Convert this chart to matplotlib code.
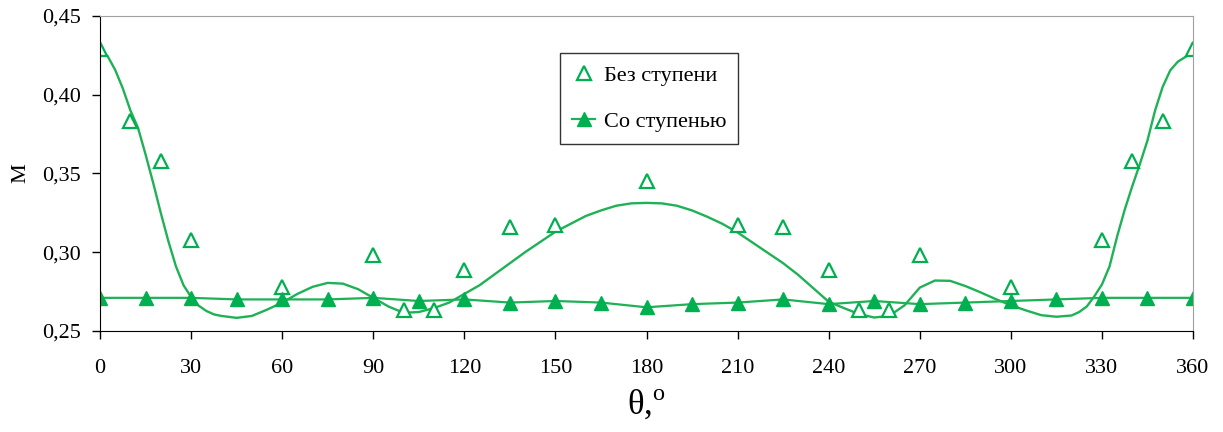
import numpy as np
import matplotlib.pyplot as plt

plt.rcParams['font.family'] = ['Liberation Serif', 'DejaVu Serif']
plt.rcParams['mathtext.fontset'] = 'custom'
plt.rcParams['mathtext.rm'] = 'Liberation Serif'

# Без ступени - точки
theta_bez = [0, 10, 20, 30, 60, 90, 100, 110, 120, 135, 150, 180, 210, 225,
             240, 250, 260, 270, 300, 330, 340, 350, 360]
m_bez = [0.429, 0.383, 0.358, 0.308, 0.278, 0.298, 0.263, 0.263, 0.289, 0.316,
         0.317, 0.345, 0.317, 0.316, 0.289, 0.263, 0.263, 0.298, 0.278, 0.308,
         0.358, 0.383, 0.429]

# Без ступени - линия тренда
theta_trend = [0, 2.5, 5, 7.5, 10, 12.5, 15, 17.5, 20, 22.5, 25, 27.5, 30, 32.5,
               35, 37.5, 40, 45, 50, 55, 60, 65, 70, 75, 80, 85, 90, 95, 100,
               105, 110, 115, 120, 125, 130, 135, 140, 145, 150, 155, 160, 165,
               170, 175, 180, 185, 190, 195, 200, 205, 210, 215, 220, 225, 230,
               235, 240, 245, 250, 255, 260, 265, 270, 275, 280, 285, 290, 295,
               300, 305, 310, 315, 320, 322.5, 325, 327.5, 330, 332.5, 335,
               337.5, 340, 342.5, 345, 347.5, 350, 352.5, 355, 357.5, 360]
m_trend = [0.428, 0.4245, 0.4157, 0.404, 0.390, 0.379, 0.362, 0.344, 0.325,
           0.307, 0.291, 0.279, 0.2715, 0.266, 0.2627, 0.2605, 0.2595, 0.2583,
           0.2595, 0.2635, 0.268, 0.2735, 0.278, 0.2805, 0.280, 0.2765, 0.271,
           0.2655, 0.2615, 0.262, 0.2645, 0.268, 0.2735, 0.279, 0.286, 0.293,
           0.300, 0.3065, 0.313, 0.318, 0.323, 0.3265, 0.3295, 0.331, 0.3313,
           0.331, 0.3295, 0.3265, 0.3225, 0.318, 0.3125, 0.306, 0.2995, 0.293,
           0.2855, 0.277, 0.2685, 0.2645, 0.2607, 0.2585, 0.2596, 0.2663, 0.2775,
           0.282, 0.2818, 0.2785, 0.2745, 0.2702, 0.2663, 0.263, 0.260, 0.259,
           0.2598, 0.262, 0.2655, 0.272, 0.2795, 0.291, 0.310, 0.327, 0.342,
           0.356, 0.371, 0.390, 0.405, 0.4155, 0.421, 0.424, 0.427]

# Со ступенью
theta_so = list(range(0, 361, 15))
m_so = [0.271, 0.271, 0.271, 0.270, 0.270, 0.270, 0.271, 0.269, 0.270, 0.268,
        0.269, 0.268, 0.265, 0.267, 0.268, 0.270, 0.267, 0.269, 0.267, 0.268,
        0.269, 0.270, 0.271, 0.271, 0.271]

green = '#00B050'
line_green = '#1FB155'

fig = plt.figure(figsize=(12.23, 4.32), dpi=100)
ax = fig.add_axes([0.0818, 0.234, 0.8937, 0.729])

ax.plot(theta_trend, m_trend, color=line_green, lw=1.7)
ax.plot(theta_bez, m_bez, ls='none', marker='^', ms=9.5, mfc='white', mec=green,
        mew=1.6, label='Без ступени')
ax.plot(theta_so, m_so, color=line_green, lw=1.6, marker='^', ms=10,
        mfc=green, mec=green, label='Со ступенью')

ax.set_xlim(0, 360)
ax.set_ylim(0.25, 0.45)
ax.set_xticks(range(0, 361, 30))
ax.set_yticks([0.25, 0.30, 0.35, 0.40, 0.45])
ax.set_yticklabels(['0,25', '0,30', '0,35', '0,40', '0,45'])
ax.tick_params(axis='both', labelsize=16, direction='out', length=6, width=1)
ax.tick_params(axis='x', pad=14)
ax.tick_params(axis='y', pad=8)

for s in ['top', 'right']:
    ax.spines[s].set_color('#a0a0a0')
for s in ['left', 'bottom']:
    ax.spines[s].set_color('black')

ax.set_ylabel('М', fontsize=16, labelpad=8)
ax.set_xlabel(r'θ,$^{\mathrm{o}}$', fontsize=25, labelpad=8)

leg = ax.legend(loc='upper left', bbox_to_anchor=(0.421, 0.883), fontsize=16,
                frameon=True, fancybox=False, edgecolor='black',
                handlelength=1.0, handletextpad=0.4, labelspacing=1.15,
                borderpad=0.55, borderaxespad=0)
leg.get_frame().set_linewidth(1.0)

fig.savefig('out.png', dpi=100)
